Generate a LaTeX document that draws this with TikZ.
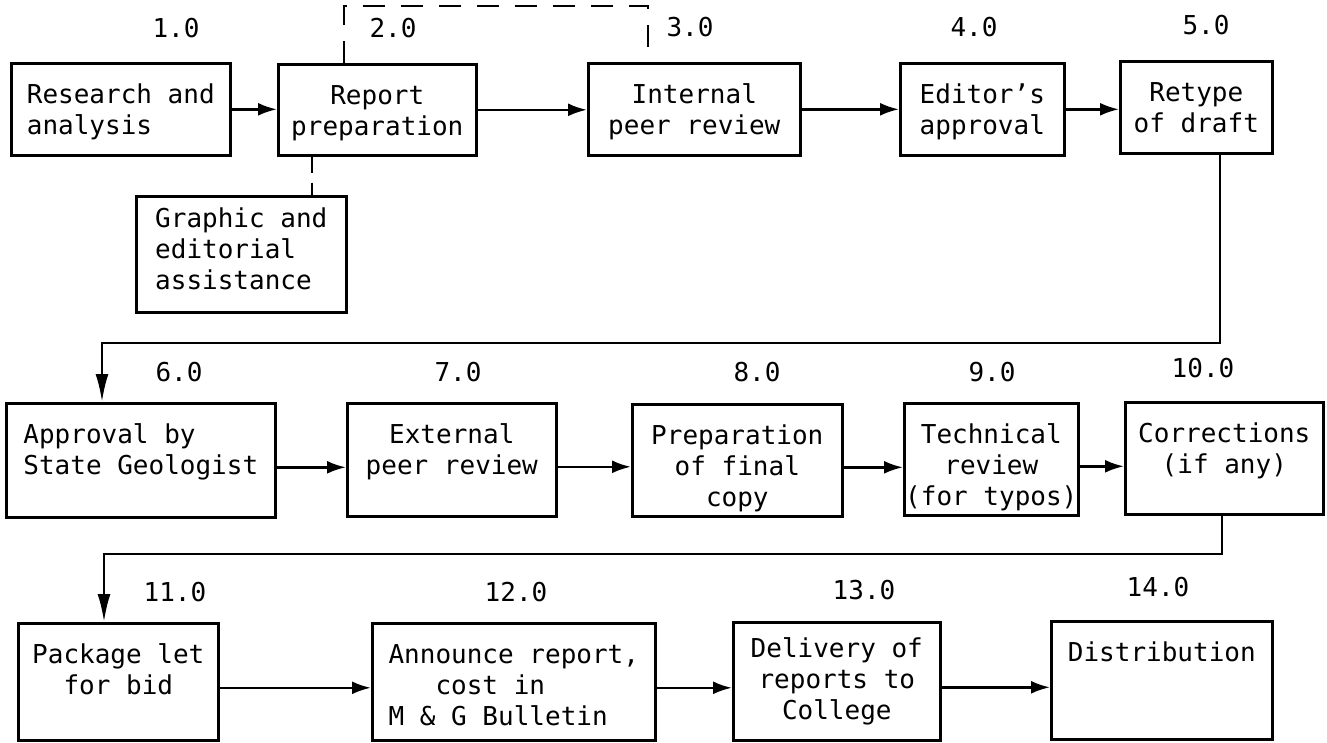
\documentclass[tikz,border=0pt]{standalone}
\usepackage{fontspec}
\setmainfont{DejaVu Sans Mono}
\usepackage{tikz}
\usetikzlibrary{arrows.meta}
\def\largeur{1327}
\def\hauteur{742}

\begin{document}
\begin{tikzpicture}[x=1pt, y=-1pt, line width=2.6pt,
	every node/.style={font=\fontsize{26}{31}\selectfont},
	etape/.style={draw, anchor=north west, inner sep=0pt, align=center},
	numero/.style={inner sep=0pt},
	fleche/.style={-{Latex[length=19pt,width=13pt]}},
	descente/.style={-{Latex[length=28pt,width=13pt]}},
	tirets/.style={dash pattern=on 22pt off 16pt}]
	\useasboundingbox (0,0) rectangle (\largeur,\hauteur);
	%\draw[step=50, line width=0.2pt, black!20] (0,0) grid (\largeur,\hauteur);
	% premiere ligne
	\node[etape, align=left, minimum width=219pt, text height=71pt, text depth=21pt] (b1) at (10,62) {Research and\\analysis};
	\node[etape, minimum width=198pt, text height=71pt, text depth=20pt] (b2) at (277,63) {Report\\preparation};
	\node[etape, minimum width=212pt, text height=71pt, text depth=21pt] (b3) at (587,62) {Internal\\peer review};
	\node[etape, minimum width=164pt, text height=71pt, text depth=21pt] (b4) at (899,62) {Editor's\\approval};
	\node[etape, minimum width=152pt, text height=71pt, text depth=21pt] (b5) at (1119,60) {Retype\\of draft};
	\node[etape, align=left, minimum width=210pt, text height=93pt, text depth=23pt] (bG) at (135,195) {Graphic and\\editorial\\assistance};
	% deuxieme ligne
	\node[etape, align=left, minimum width=269pt, text height=71pt, text depth=43pt] (b6) at (5,402) {Approval by\\State Geologist};
	\node[etape, minimum width=209pt, text height=71pt, text depth=42pt] (b7) at (346,402) {External\\peer review};
	\node[etape, minimum width=210pt, text height=102pt, text depth=10pt] (b8) at (631,403) {Preparation\\of final\\copy};
	\node[etape, minimum width=174pt, text height=102pt, text depth=10pt] (b9) at (903,402) {Technical\\review\\(for typos)};
	\node[etape, minimum width=198pt, text height=71pt, text depth=41pt] (b10) at (1124,401) {Corrections\\(if any)};
	% troisieme ligne
	\node[etape, minimum width=200pt, text height=71pt, text depth=46pt] (b11) at (17,622) {Package let\\for bid};
	\node[etape, align=left, minimum width=283pt, text height=102pt, text depth=15pt] (b12) at (371,622) {Announce report,\\\phantom{Ann}cost in\\M \& G Bulletin};
	\node[etape, minimum width=207pt, text height=97pt, text depth=21pt] (b13) at (732,621) {Delivery of\\reports to\\College};
	\node[etape, minimum width=221pt, text height=40pt, text depth=78pt] (b14) at (1050,620) {Distribution};
	% numeros
	\foreach \i/\x/\y in {1/176/28, 2/393/28, 3/690/27, 4/974/27, 5/1206/25,
		6/179/372, 7/458/372, 8/757/372, 9/992/372, 10/1203/368,
		11/175/592, 12/516/592, 13/864/590, 14/1158/587}
		\node[numero] (n\i) at (\x,\y) {\i.0};
	\coordinate (d1) at (344,6);
	\coordinate (d2) at (648,6);
	\coordinate (g) at (312,0);
	\coordinate (r1) at (1220,343);
	\coordinate (l1) at (102,343);
	\coordinate (r2) at (1222,554);
	\coordinate (l2) at (104,554);
	% liaisons
	\foreach \a/\b in {b1/b2, b2/b3, b3/b4, b4/b5}
		\draw[fleche] (\a.east) -- (\a.east -| \b.west);
	\foreach \a/\b in {b6/b7, b7/b8, b8/b9, b9/b10}
		\draw[fleche] ([yshift=-7pt]\a.east) -- ([yshift=-7pt]\a.east -| \b.west);
	\foreach \a/\b in {b11/b12, b12/b13, b13/b14}
		\draw[fleche] ([yshift=-6pt]\a.east) -- ([yshift=-6pt]\a.east -| \b.west);
	\draw[tirets] (b2.north -| d1) -- (d1) -- (d2) -- (b3.north -| d2);
	\draw[dash pattern=on 16pt off 10pt] (b2.south -| g) -- (bG.north -| g);
	\draw[descente] (b5.south -| r1) -- (r1) -- (l1) -- (b6.north -| l1);
	\draw[descente] (b10.south -| r2) -- (r2) -- (l2) -- (b11.north -| l2);
\end{tikzpicture}
\end{document}
